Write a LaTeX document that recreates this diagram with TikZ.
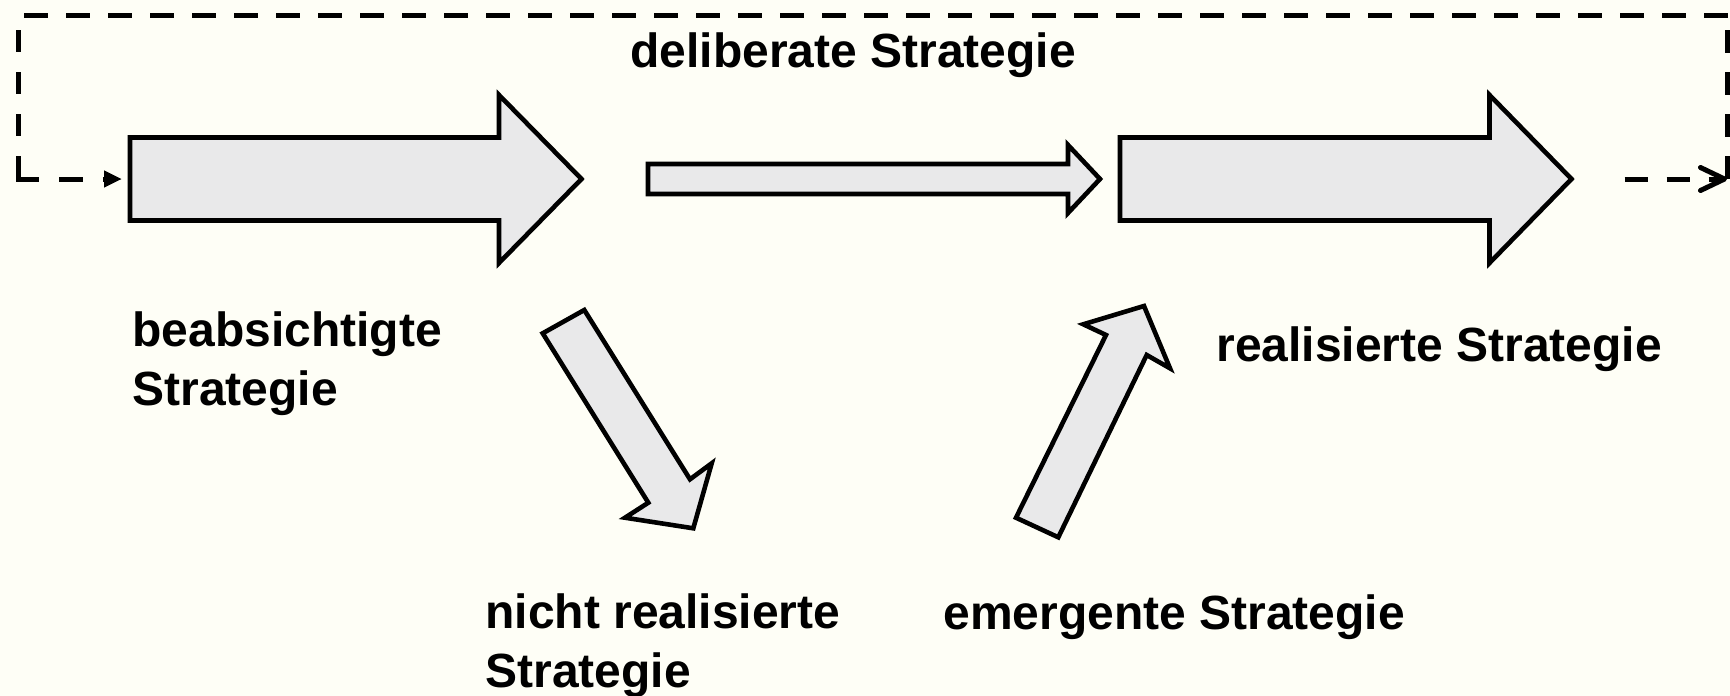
\documentclass[tikz,border=0pt]{standalone}
\usepackage{fontspec}
\setmainfont{Liberation Sans}
\usetikzlibrary{arrows.meta}
\definecolor{bgcol}{RGB}{254,254,246}
\definecolor{arrowfill}{RGB}{233,233,234}
\tikzset{
  blockarrow/.style={draw=black, fill=arrowfill, line width=2.3pt, line join=miter},
  lbl/.style={font=\fontsize{24pt}{29.2pt}\selectfont\bfseries, inner sep=0pt, anchor=base west, align=left},
  dashline/.style={draw=black, line width=2.5pt},
}
\begin{document}
\begin{tikzpicture}[x=0.5pt,y=-0.5pt]
\fill[bgcol] (0,0) rectangle (1730,696);
\useasboundingbox (0,0) rectangle (1730,696);

% named anchor points
\coordinate (a1w) at (130,179);
\coordinate (a1tip) at (581.5,179);
\coordinate (a2w) at (1120,179);
\coordinate (a2tip) at (1571.5,179);
\coordinate (lcorner) at (18,179);
\coordinate (ltop) at (18,30);
\coordinate (rcorner) at (1727,179);
\coordinate (rtop) at (1727,30);
\coordinate (topl) at (24,15);
\coordinate (topr) at (1730,15);

% big arrow: beabsichtigte Strategie
\draw[blockarrow] (130,137.5) -- (499,137.5) -- (499,95) -- (a1tip) -- (499,263) -- (499,220.5) -- (130,220.5) -- cycle;
% thin arrow: deliberate Strategie
\draw[blockarrow] (648,164) -- (1068,164) -- (1068,145) -- (1100,179) -- (1068,213) -- (1068,194) -- (648,194) -- cycle;
% big arrow: realisierte Strategie
\draw[blockarrow] (1120,137.5) -- (1489.5,137.5) -- (1489.5,95) -- (a2tip) -- (1489.5,263) -- (1489.5,220.5) -- (1120,220.5) -- cycle;
% diagonal arrow down: nicht realisierte Strategie
\draw[blockarrow] (542.7,333.3) -- (584.3,310) -- (690,479.3) -- (711.7,463.3) -- (693.3,528.3) -- (625,517.7) -- (648.3,502.7) -- cycle;
% diagonal arrow up: emergente Strategie
\draw[blockarrow] (1016,517.7) -- (1106,335) -- (1083.3,324.3) -- (1144,306) -- (1170,368.3) -- (1146.7,355) -- (1058.3,537.3) -- cycle;

% dashed frame
\draw[dashline, dash pattern=on 12pt off 9pt] (topl) -- (topr);
\draw[dashline, dash pattern=on 11pt off 10pt on 11pt off 10pt on 11pt off 10pt on 22pt off 10pt on 12pt off 10pt,
      -{Triangle[length=9pt,width=8pt]}] (ltop) -- (lcorner) -- ([xshift=-4pt]a1w);
\draw[dashline, dash pattern=on 11.5pt off 9.5pt] (rtop) -- (rcorner);
\draw[dashline, dash pattern=on 11.5pt off 9.5pt, -{Straight Barb[length=12pt,width=11.5pt,round]}]
      ([xshift=26.5pt]a2tip) -- (rcorner);

% labels (multi-line nodes: base = baseline of last line)
\node[lbl] (delib) at (630,67) {deliberate Strategie};
\node[lbl] (beabs) at (132,405) {beabsichtigte\\Strategie};
\node[lbl] (real) at (1216,361) {realisierte Strategie};
\node[lbl] (nreal) at (485,687) {nicht realisierte\\Strategie};
\node[lbl] (emerg) at (943,629) {emergente Strategie};
\end{tikzpicture}
\end{document}
